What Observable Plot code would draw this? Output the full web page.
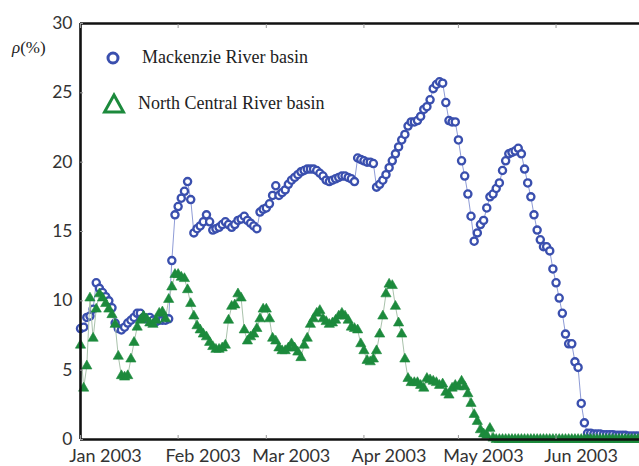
<!DOCTYPE html>
<html>
<head>
<meta charset="utf-8">
<script src="https://cdn.jsdelivr.net/npm/d3@7"></script>
<script src="https://cdn.jsdelivr.net/npm/@observablehq/plot@0.6"></script>
<style>
  body { margin: 0; background: #fff; }
  #chart { position: relative; width: 639px; height: 466px; overflow: hidden; }
  #ylabel { position: absolute; left: 12px; top: 38px; font: 17px "Liberation Serif", serif; color: #222; }
  #ylabel i { font-style: italic; }
  .legend-row { position: absolute; display: flex; align-items: center; font: 18px "Liberation Serif", serif; color: #222; white-space: nowrap; }
</style>
</head>
<body>
<div id="chart">
  <div id="ylabel"><i>ρ</i>(%)</div>
</div>
<script>
// Daily basin values (%) starting 1 Jan 2003
const startDate = "2003-01-01";
const seriesNames = ["Mackenzie River basin", "North Central River basin"];

const mackenzie = [
  8.0, 8.1, 8.8, 8.9, 9.4, 11.3, 10.9, 10.6, 10.3, 10.0,
  9.5, 8.4, 8.0, 7.9, 8.1, 8.4, 8.6, 8.8, 9.1, 9.1,
  8.8, 8.7, 8.8, 8.6, 8.5, 8.6, 8.6, 8.6, 8.7, 12.9,
  16.2, 16.8, 17.4, 17.9, 18.6, 17.3, 14.9, 15.2, 15.4, 15.7,
  16.2, 15.7, 15.1, 15.2, 15.3, 15.5, 15.7, 15.5, 15.3, 15.5,
  15.8, 15.9, 16.1, 15.8, 15.6, 15.4, 15.2, 16.4, 16.6, 16.7,
  17.0, 17.6, 18.3, 17.6, 17.8, 18.0, 18.4, 18.7, 18.9, 19.1,
  19.3, 19.4, 19.5, 19.5, 19.5, 19.4, 19.2, 19.0, 18.7, 18.6,
  18.7, 18.8, 18.9, 19.0, 19.0, 18.9, 18.8, 18.6, 20.3, 20.2,
  20.1, 20.0, 20.0, 19.9, 18.2, 18.4, 18.7, 19.1, 19.6, 20.1,
  20.6, 21.1, 21.6, 22.0, 22.6, 22.9, 22.9, 23.0, 23.3, 23.8,
  24.0, 24.5, 25.3, 25.6, 25.8, 25.7, 24.3, 23.0, 22.9, 22.9,
  21.6, 20.1, 19.0, 17.7, 16.1, 14.3, 14.9, 15.5, 15.8, 16.7,
  17.5, 17.7, 18.1, 18.5, 19.4, 20.1, 20.6, 20.7, 20.8, 21.0,
  20.6, 19.5, 18.5, 17.5, 16.2, 15.1, 14.4, 13.9, 13.9, 13.6,
  12.3, 11.3, 10.2, 9.1, 7.6, 6.9, 6.9, 5.6, 5.2, 2.6,
  1.2, 0.45, 0.45, 0.4, 0.4, 0.4, 0.35, 0.35, 0.35, 0.35,
  0.3, 0.3, 0.3, 0.3, 0.25, 0.25, 0.25, 0.25, 0.25
];

const northCentral = [
  6.8, 3.7, 5.3, 10.2, 7.3, 9.4, 10.5, 10.2, 9.8, 9.4,
  9.0, 8.3, 6.0, 4.6, 4.5, 4.6, 5.8, 7.0, 8.1, 8.6,
  8.9, 8.7, 8.4, 8.3, 8.6, 9.1, 9.2, 8.7, 10.1, 11.0,
  11.9, 11.9, 11.7, 11.6, 10.8, 9.8, 8.9, 8.2, 7.9, 7.6,
  7.4, 7.0, 6.7, 6.5, 6.5, 6.6, 6.8, 8.6, 9.6, 9.7,
  10.5, 10.2, 7.9, 7.1, 7.4, 7.6, 8.0, 8.7, 9.4, 9.4,
  8.7, 7.3, 7.1, 6.6, 6.4, 6.4, 6.6, 6.9, 6.6, 6.3,
  5.9, 6.8, 7.3, 8.3, 8.7, 9.1, 9.3, 8.7, 8.5, 8.3,
  8.4, 8.6, 8.9, 9.1, 8.9, 8.6, 8.1, 8.0, 7.9, 6.9,
  6.4, 5.7, 5.6, 5.8, 6.4, 7.6, 8.9, 10.5, 11.2, 11.1,
  9.6, 8.4, 7.6, 5.8, 4.4, 4.1, 4.1, 4.1, 3.9, 3.7,
  4.4, 4.3, 4.2, 4.1, 3.9, 4.0, 3.4, 3.2, 3.7, 3.9,
  3.8, 4.2, 3.8, 3.3, 2.6, 1.8, 1.3, 0.7, 0.4, 0.3,
  0.8, 0.1, 0, 0, 0, 0, 0, 0, 0, 0,
  0, 0, 0, 0, 0, 0, 0, 0, 0, 0,
  0, 0, 0, 0, 0, 0, 0, 0, 0, 0,
  0, 0, 0, 0, 0, 0, 0, 0, 0, 0,
  0, 0, 0, 0, 0, 0, 0, 0, 0
];

const monthTicks = ["2003-01-01", "2003-02-01", "2003-03-01", "2003-04-01", "2003-05-01", "2003-06-01"];
const yTicks = [0, 5, 10, 15, 20, 25, 30];

const blue = "#3a4fae";
const green = "#1c8a3c";

const day0 = new Date(startDate + "T00:00:00Z");
const dateOf = i => new Date(day0.getTime() + i * 864e5);
const toRows = values => values.map((v, i) => ({date: dateOf(i), value: v}));
const rowsM = toRows(mackenzie);
const rowsN = toRows(northCentral);
const tickDates = monthTicks.map(s => new Date(s + "T00:00:00Z"));
const xEnd = dateOf(177.5);

const chart = Plot.plot({
  width: 639,
  height: 466,
  marginLeft: 80,
  marginRight: 0,
  marginTop: 23,
  marginBottom: 27,
  style: {fontFamily: "Lato, 'Liberation Sans', sans-serif", fontSize: "17px", color: "#333", background: "#fff"},
  x: {type: "utc", domain: [day0, xEnd], label: null},
  y: {domain: [d3.min(yTicks), d3.max(yTicks)], label: null},
  marks: [
    // Mackenzie series: thin connecting line with open circles
    Plot.line(rowsM, {x: "date", y: "value", stroke: "#8e9bd6", strokeWidth: 1}),
    Plot.dot(rowsM, {x: "date", y: "value", r: 3.6, stroke: blue, strokeWidth: 2.3, fill: "#fff"}),
    // North Central series: thin line with filled triangles
    Plot.line(rowsN, {x: "date", y: "value", stroke: "#a9c2ab", strokeWidth: 1}),
    Plot.dot(rowsN, {x: "date", y: "value", symbol: "triangle", r: 3.8, fill: green, stroke: green, strokeWidth: 0.6}),
    // frame
    Plot.ruleY([d3.min(yTicks), d3.max(yTicks)], {stroke: "#111", strokeWidth: 2.6}),
    Plot.ruleX([day0], {stroke: "#111", strokeWidth: 2.6}),
    // axes
    Plot.axisX({ticks: tickDates, tickFormat: d3.utcFormat("%b %Y"), tickSize: 0, tickPadding: 10, dx: 25, fontSize: 18, label: null}),
    Plot.axisX({ticks: tickDates, tickFormat: () => "", tickSize: -4, stroke: "#999", label: null}),
    Plot.axisX({anchor: "top", ticks: tickDates, tickFormat: () => "", tickSize: -4, stroke: "#999", label: null}),
    Plot.axisY({ticks: yTicks, tickSize: 0, tickPadding: 8, fontSize: 17.5, label: null}),
    Plot.axisY({ticks: yTicks, tickFormat: () => "", tickSize: -3, stroke: "#999", label: null})
  ]
});

const host = document.getElementById("chart");
host.prepend(chart);

// legend inside the plot area
const legend = [
  {name: seriesNames[0], top: 47, left: 105, symbol: `<svg width="18" height="20"><circle cx="8" cy="10" r="5" fill="#fff" stroke="${blue}" stroke-width="3"/></svg>`, gap: 19},
  {name: seriesNames[1], top: 92, left: 102, symbol: `<svg width="24" height="22"><path d="M12,3 L21.5,20 L2.5,20 Z" fill="#fff" stroke="${green}" stroke-width="3" stroke-linejoin="miter"/></svg>`, gap: 12}
];
for (const item of legend) {
  const row = document.createElement("div");
  row.className = "legend-row";
  row.style.left = item.left + "px";
  row.style.top = item.top + "px";
  row.innerHTML = item.symbol + `<span style="margin-left:${item.gap}px">${item.name}</span>`;
  host.appendChild(row);
}
</script>
</body>
</html>
